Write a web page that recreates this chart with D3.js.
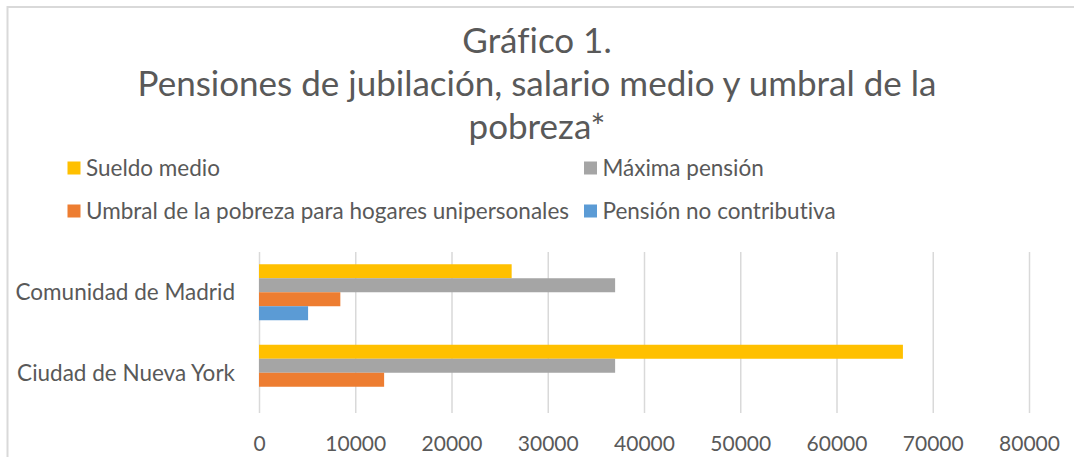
<!DOCTYPE html>
<html lang="es">
<head>
<meta charset="utf-8">
<title>Gráfico 1</title>
<style>
  html, body { margin: 0; padding: 0; background: #fff; }
  text { font-family: Lato, "Open Sans", sans-serif; fill: #595959; font-variant-ligatures: none; }
  .grid line { stroke: #d9d9d9; stroke-width: 1.5px; }
</style>
</head>
<body>
<div id="chart"></div>
<script src="https://cdn.jsdelivr.net/npm/d3@7"></script>
<script>
// data
var categories = ["Comunidad de Madrid", "Ciudad de Nueva York"];
var seriesNames = ["Sueldo medio", "Máxima pensión", "Umbral de la pobreza para hogares unipersonales", "Pensión no contributiva"];
var seriesColors = ["#ffc000", "#a5a5a5", "#ed7d31", "#5b9bd5"];
var sueldoMedio = [26250, 66900];
var maximaPension = [37000, 37000];
var umbralPobreza = [8450, 13000];
var pensionNoContributiva = [5100, 0];
var xTicks = [0, 10000, 20000, 30000, 40000, 50000, 60000, 70000, 80000];
var titleLines = ["Gráfico 1.", "Pensiones de jubilación, salario medio y umbral de la", "pobreza*"];

var values = [sueldoMedio, maximaPension, umbralPobreza, pensionNoContributiva];

var width = 1074, height = 457;

var svg = d3.select("#chart")
  .append("svg")
  .attr("width", width)
  .attr("height", height);

// chart frame (only top and left edges show)
svg.append("path")
  .attr("d", "M7.5," + height + " V7 H" + width)
  .attr("fill", "none")
  .attr("stroke", "#d9d9d9")
  .attr("stroke-width", 2);

// title
svg.append("g")
  .selectAll("text")
  .data(titleLines)
  .enter()
  .append("text")
  .attr("x", 537)
  .attr("y", function (d, i) { return 53 + i * 43; })
  .attr("text-anchor", "middle")
  .style("font-size", "35px")
  .text(function (d) { return d; });

// legend, 2 x 2
var legend = svg.append("g")
  .selectAll("g")
  .data(seriesNames)
  .enter()
  .append("g")
  .attr("transform", function (d, i) {
    return "translate(" + (i % 2 ? 584 : 67.5) + "," + (i < 2 ? 161.5 : 204.5) + ")";
  });
legend.append("rect")
  .attr("width", 13)
  .attr("height", 13)
  .attr("fill", function (d, i) { return seriesColors[i]; });
legend.append("text")
  .attr("x", 18.5)
  .attr("y", 14)
  .style("font-size", "22.5px")
  .text(function (d) { return d; });

// scales
var x = d3.scaleLinear().domain([0, 80000]).range([259, 1029]);
var y = d3.scaleBand().domain(categories).range([252, 413]);
var ySeries = d3.scaleBand()
  .domain(seriesNames)
  .range([0, y.bandwidth()])
  .paddingInner(0)
  .paddingOuter(0.875);

// gridlines
svg.append("g")
  .attr("class", "grid")
  .attr("transform", "translate(0,252)")
  .call(d3.axisBottom(x).tickValues(xTicks).tickSize(161).tickFormat(""))
  .call(function (g) { g.select(".domain").remove(); });

// x axis labels
svg.append("g")
  .attr("transform", "translate(0,413)")
  .call(d3.axisBottom(x).tickValues(xTicks).tickSize(0).tickPadding(0).tickFormat(d3.format("d")))
  .call(function (g) {
    g.select(".domain").remove();
    g.selectAll("text")
      .attr("dy", null)
      .attr("y", 37.5)
      .style("font-size", "21px")
      .attr("fill", "#595959");
  });

// category labels
svg.append("g")
  .selectAll("text")
  .data(categories)
  .enter()
  .append("text")
  .attr("x", 235)
  .attr("y", function (d) { return y(d) + y.bandwidth() / 2; })
  .attr("dy", "0.35em")
  .attr("text-anchor", "end")
  .style("font-size", "22.5px")
  .text(function (d) { return d; });

// bars
svg.append("g")
  .selectAll("g")
  .data(categories)
  .enter()
  .append("g")
  .attr("transform", function (d) { return "translate(0," + y(d) + ")"; })
  .selectAll("rect")
  .data(function (d, ci) {
    return seriesNames.map(function (s, si) {
      return { series: s, value: values[si][ci], color: seriesColors[si] };
    });
  })
  .enter()
  .append("rect")
  .attr("x", x(0))
  .attr("y", function (d) { return ySeries(d.series); })
  .attr("width", function (d) { return x(d.value) - x(0); })
  .attr("height", ySeries.bandwidth())
  .attr("fill", function (d) { return d.color; });
</script>
</body>
</html>
